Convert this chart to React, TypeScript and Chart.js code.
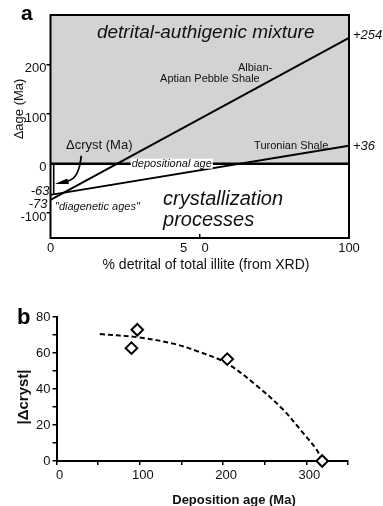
import React, { useEffect, useRef } from 'react';
import { Chart, registerables } from 'chart.js';

Chart.register(...registerables);

const FONT = '"Liberation Sans", Arial, Helvetica, sans-serif';

// ---------- Panel a data ----------
const mixPercent = [0, 100];
const albianAge = [-73, 254];
const turonianAge = [-63, 36];
const depositionalAge = [0, 0];
const aYTicks = [-100, 0, 100, 200];
const aXTicks = [0, 50, 100];
const aXTickLabels = ['0', '5    0   ', '100'];
const crystLabels = [-63, -73];

// ---------- Panel b data ----------
const depositionAge = [90, 97, 205, 319];
const crystAbs = [62.7, 72.9, 56.6, 0];
const fitAge = [52, 100, 140, 168, 204, 240, 272, 296, 312, 319];
const fitCryst = [70.5, 68.6, 65.2, 61.2, 54.4, 42, 28.6, 15.6, 6.5, 0];

function drawText(
  ctx: CanvasRenderingContext2D,
  s: string,
  x: number,
  y: number,
  font: string,
  align: CanvasTextAlign = 'left',
  color = '#111'
) {
  ctx.save();
  ctx.font = font;
  ctx.fillStyle = color;
  ctx.textAlign = align;
  ctx.textBaseline = 'middle';
  ctx.fillText(s, x, y);
  ctx.restore();
}

const panelAPlugin = {
  id: 'panelA',
  beforeDatasetsDraw(chart: any) {
    const { ctx, chartArea: ca, scales } = chart;
    const y = scales.y;
    const y0 = y.getPixelForValue(0);
    ctx.save();
    ctx.fillStyle = '#d3d3d3';
    ctx.fillRect(ca.left, ca.top, ca.right - ca.left, y0 - ca.top);
    ctx.restore();
  },
  afterDatasetsDraw(chart: any) {
    const { ctx, chartArea: ca, scales } = chart;
    const x = scales.x;
    const y = scales.y;
    const X = (v: number) => x.getPixelForValue(v);
    const Y = (v: number) => y.getPixelForValue(v);

    // frame
    ctx.save();
    ctx.strokeStyle = '#000';
    ctx.lineWidth = 2;
    ctx.strokeRect(ca.left, ca.top, ca.right - ca.left, ca.bottom - ca.top);
    // inner tick at 50 (pointing up)
    ctx.lineWidth = 1.5;
    ctx.beginPath();
    ctx.moveTo(X(50), ca.bottom);
    ctx.lineTo(X(50), ca.bottom - 4);
    ctx.stroke();
    // delta cryst bar
    ctx.lineWidth = 1.6;
    ctx.beginPath();
    ctx.moveTo(ca.left + 3.2, Y(0));
    ctx.lineTo(ca.left + 3.2, Y(-63));
    ctx.stroke();
    // arrow
    ctx.lineWidth = 1.8;
    ctx.beginPath();
    ctx.moveTo(X(10.3), Y(16));
    ctx.quadraticCurveTo(X(9.6), Y(-30), X(5.8), Y(-35));
    ctx.stroke();
    ctx.fillStyle = '#000';
    ctx.beginPath();
    ctx.moveTo(X(1.5), Y(-41));
    ctx.lineTo(X(5.6), Y(-30));
    ctx.lineTo(X(6.2), Y(-41));
    ctx.closePath();
    ctx.fill();
    ctx.restore();

    // depositional age label with white background
    const depFont = `italic 11px ${FONT}`;
    ctx.save();
    ctx.font = depFont;
    const w = ctx.measureText('depositional age').width;
    ctx.fillStyle = '#fff';
    ctx.fillRect(X(27.2) - 1, Y(0) - 5, w + 2, 10);
    ctx.restore();
    drawText(ctx, 'depositional age', X(27.2), Y(0), depFont);

    drawText(ctx, 'detrital-authigenic mixture', X(52), Y(264), `italic 19px ${FONT}`, 'center');
    drawText(ctx, 'Albian-', X(62.8), Y(193), `11px ${FONT}`);
    drawText(ctx, 'Aptian Pebble Shale', X(36.7), Y(171), `11px ${FONT}`);
    drawText(ctx, 'Turonian Shale', X(68.2), Y(36), `11px ${FONT}`);
    drawText(ctx, '\u0394cryst (Ma)', X(5.2), Y(36), `13px ${FONT}`);
    drawText(ctx, '"diagenetic ages"', X(1.5), Y(-87.5), `italic 11px ${FONT}`);
    drawText(ctx, 'crystallization', X(37.7), Y(-73), `italic 20px ${FONT}`);
    drawText(ctx, 'processes', X(37.7), Y(-115), `italic 20px ${FONT}`);
    drawText(ctx, '+' + albianAge[1], ca.right + 4, Y(albianAge[1]) - 2, `italic 13px ${FONT}`);
    drawText(ctx, '+' + turonianAge[1], ca.right + 4, Y(turonianAge[1]) + 1, `italic 13px ${FONT}`);
    // intercept labels
    drawText(ctx, String(crystLabels[0]), ca.left - 1, Y(crystLabels[0]) - 3, `italic 13px ${FONT}`, 'right');
    drawText(ctx, String(crystLabels[1]), ca.left - 3, Y(crystLabels[1]) + 5, `italic 13px ${FONT}`, 'right');

    // panel letter and axis titles
    drawText(ctx, 'a', 21, 14, `bold 21px ${FONT}`, 'left', '#000');
    ctx.save();
    ctx.translate(19, 109);
    ctx.rotate(-Math.PI / 2);
    drawText(ctx, '\u0394age (Ma)', 0, 0, `13px ${FONT}`, 'center');
    ctx.restore();
    drawText(ctx, '% detrital of total illite (from XRD)', 206, 265, `14px ${FONT}`, 'center');
  },
};

const panelBPlugin = {
  id: 'panelB',
  afterDraw(chart: any) {
    const { ctx } = chart;
    drawText(ctx, 'b', 17, 28, `bold 22px ${FONT}`, 'left', '#000');
    ctx.save();
    ctx.translate(24, 107);
    ctx.rotate(-Math.PI / 2);
    drawText(ctx, '|\u0394cryst|', 0, 0, `bold 15px ${FONT}`, 'center');
    ctx.restore();
    drawText(ctx, 'Deposition age (Ma)', 234, 210, `bold 13px ${FONT}`, 'center');
  },
};

export default function App() {
  const refA = useRef<HTMLCanvasElement>(null);
  const refB = useRef<HTMLCanvasElement>(null);

  useEffect(() => {
    const tickFont = { family: FONT, size: 13 };
    const chartA = new Chart(refA.current as HTMLCanvasElement, {
      type: 'line',
      data: {
        datasets: [
          {
            data: mixPercent.map((v, i) => ({ x: v, y: albianAge[i] })),
            borderColor: '#000',
            borderWidth: 2,
            pointRadius: 0,
            fill: false,
          },
          {
            data: mixPercent.map((v, i) => ({ x: v, y: turonianAge[i] })),
            borderColor: '#000',
            borderWidth: 2,
            pointRadius: 0,
            fill: false,
          },
          {
            data: mixPercent.map((v, i) => ({ x: v, y: depositionalAge[i] })),
            borderColor: '#000',
            borderWidth: 2.5,
            pointRadius: 0,
            fill: false,
          },
        ],
      },
      options: {
        animation: false,
        responsive: false,
        events: [],
        layout: { padding: { left: 0, right: 34, top: 15, bottom: 0 } },
        plugins: { legend: { display: false }, tooltip: { enabled: false } },
        scales: {
          x: {
            type: 'linear',
            min: 0,
            max: 100,
            afterBuildTicks: (s: any) => {
              s.ticks = aXTicks.map((v) => ({ value: v }));
            },
            afterFit: (s: any) => {
              s.height = 52;
            },
            border: { display: false },
            grid: { display: false, drawTicks: false },
            ticks: {
              autoSkip: false,
              maxRotation: 0,
              padding: 3,
              color: '#111',
              font: tickFont,
              callback: (v: any) => aXTickLabels[aXTicks.indexOf(Number(v))],
            },
          },
          y: {
            type: 'linear',
            min: -150,
            max: 300,
            afterBuildTicks: (s: any) => {
              s.ticks = aYTicks.map((v) => ({ value: v }));
            },
            afterFit: (s: any) => {
              s.width = 50.5;
            },
            border: { display: false },
            grid: {
              drawOnChartArea: false,
              drawTicks: true,
              tickLength: 4,
              lineWidth: 1.5,
              color: (c: any) => (c.tick && c.tick.value === 0 ? 'rgba(0,0,0,0)' : '#000'),
            },
            ticks: {
              autoSkip: false,
              padding: 0,
              labelOffset: 4,
              color: '#111',
              font: tickFont,
              callback: (v: any) => String(v),
            },
          },
        },
      },
      plugins: [panelAPlugin],
    } as any);

    const chartB = new Chart(refB.current as HTMLCanvasElement, {
      type: 'scatter',
      data: {
        datasets: [
          {
            type: 'line',
            data: fitAge.map((v, i) => ({ x: v, y: fitCryst[i] })),
            borderColor: '#000',
            borderWidth: 2,
            borderDash: [5, 3],
            pointRadius: 0,
            tension: 0.35,
            fill: false,
            order: 2,
          },
          {
            type: 'scatter',
            data: depositionAge.map((v, i) => ({ x: v, y: crystAbs[i] })),
            pointStyle: 'rectRot',
            pointRadius: 5.8,
            borderColor: '#000',
            borderWidth: 2,
            backgroundColor: '#fff',
            clip: false,
            order: 1,
          },
        ],
      },
      options: {
        animation: false,
        responsive: false,
        events: [],
        layout: { padding: { left: 0, right: 35, top: 27, bottom: 0 } },
        plugins: { legend: { display: false }, tooltip: { enabled: false } },
        scales: {
          x: {
            type: 'linear',
            min: 0,
            max: 350,
            afterFit: (s: any) => {
              s.height = 45;
            },
            border: { display: true, color: '#000', width: 2 },
            grid: { drawOnChartArea: false, drawTicks: true, tickLength: 4, lineWidth: 1.5, color: '#000' },
            ticks: {
              stepSize: 50,
              autoSkip: false,
              maxRotation: 0,
              padding: 3,
              labelOffset: 3,
              color: '#111',
              font: tickFont,
              callback: (v: any) => (Number(v) % 100 === 0 ? String(v) : ''),
            },
          },
          y: {
            type: 'linear',
            min: 0,
            max: 80,
            afterFit: (s: any) => {
              s.width = 56.5;
            },
            border: { display: true, color: '#000', width: 2 },
            grid: { drawOnChartArea: false, drawTicks: true, tickLength: 4, lineWidth: 1.5, color: '#000' },
            ticks: {
              stepSize: 10,
              autoSkip: false,
              padding: 2,
              color: '#111',
              font: tickFont,
              callback: (v: any) => (Number(v) % 20 === 0 ? String(v) : ''),
            },
          },
        },
      },
      plugins: [panelBPlugin],
    } as any);

    return () => {
      chartA.destroy();
      chartB.destroy();
    };
  }, []);

  return (
    <div style={{ position: 'fixed', left: 0, top: 0, width: 383, height: 506, background: '#fff' }}>
      <canvas ref={refA} width={383} height={290} style={{ position: 'absolute', left: 0, top: 0, width: 383, height: 290 }} />
      <canvas ref={refB} width={383} height={216} style={{ position: 'absolute', left: 0, top: 290, width: 383, height: 216 }} />
    </div>
  );
}
